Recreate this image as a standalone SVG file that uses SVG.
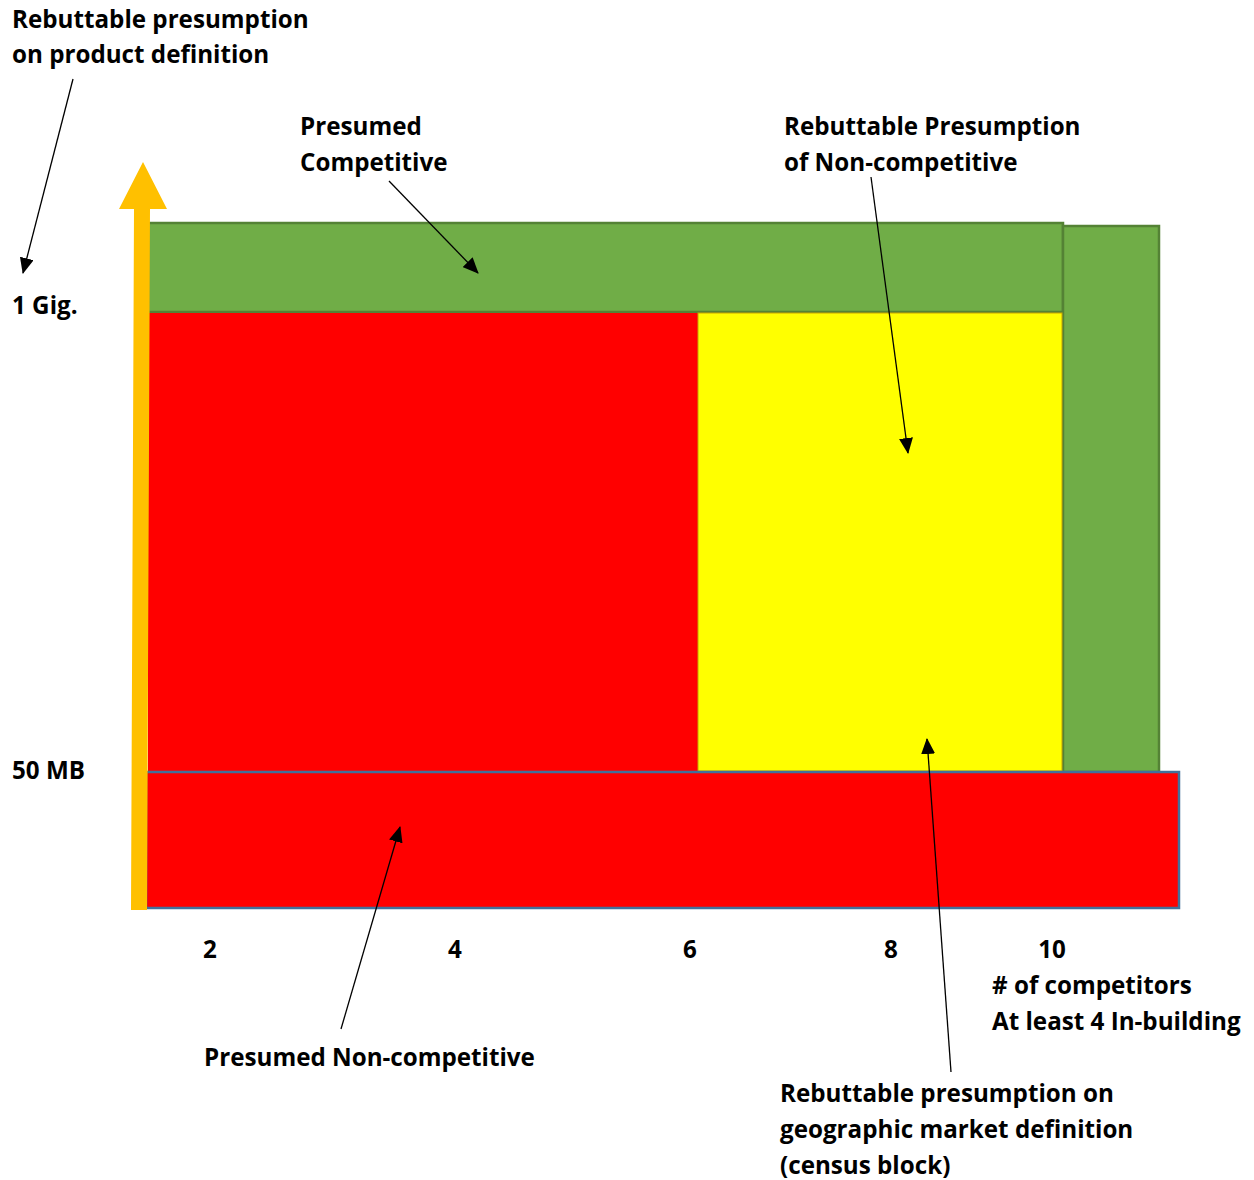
<svg xmlns="http://www.w3.org/2000/svg" width="1254" height="1180" viewBox="0 0 1254 1180">
<defs>
<style>
.t{font-family:"Open Sans","Liberation Sans",sans-serif;font-weight:bold;font-size:24.2px;fill:#000}
.c{stroke:#000;stroke-width:1.3;fill:none;marker-end:url(#ah)}
</style>
<marker id="ah" markerWidth="16" markerHeight="14" refX="15" refY="7" orient="auto" markerUnits="userSpaceOnUse" viewBox="0 0 16 14">
<path d="M0,0 L16,7 L0,14 Z" fill="#000"/>
</marker>
</defs>
<rect width="1254" height="1180" fill="#fff"/>
<g id="zone-competitive-top"><rect x="148" y="223" width="915" height="89" fill="#70AD47" stroke="#548235" stroke-width="2.5"/></g>
<g id="zone-competitive-right"><rect x="1063" y="226" width="96" height="546" fill="#70AD47" stroke="#548235" stroke-width="2.5"/></g>
<g id="zone-noncompetitive-upper"><rect x="148" y="313" width="550" height="458" fill="#FF0000"/></g>
<g id="zone-rebuttable"><rect x="698" y="313" width="364" height="458" fill="#FFFF00" stroke="#C9A400" stroke-width="1"/></g>
<g id="zone-noncompetitive-lower"><rect x="146" y="772" width="1033" height="136" fill="#FF0000" stroke="#41719C" stroke-width="2.5"/></g>
<g id="axis"><polygon points="134,209 119,209 143,162 167,209 150,209 147,910 131,910" fill="#FFC000"/></g>
<g id="connectors">
<line class="c" x1="73" y1="79" x2="23" y2="273"/>
<line class="c" x1="389" y1="181" x2="478" y2="273"/>
<line class="c" x1="871" y1="177" x2="908" y2="453"/>
<line class="c" x1="341" y1="1029" x2="400" y2="827"/>
<line class="c" x1="951" y1="1072" x2="927" y2="739"/>
</g>
<g id="labels">
<text class="t" x="12" y="28">Rebuttable presumption</text>
<text class="t" x="12" y="63">on product definition</text>
<text class="t" x="12" y="314">1 Gig.</text>
<text class="t" x="12" y="779">50 MB</text>
<text class="t" x="300" y="135">Presumed</text>
<text class="t" x="300" y="171">Competitive</text>
<text class="t" x="784" y="135">Rebuttable Presumption</text>
<text class="t" x="784" y="171">of Non-competitive</text>
<text class="t" x="210" y="958" text-anchor="middle">2</text>
<text class="t" x="455" y="958" text-anchor="middle">4</text>
<text class="t" x="690" y="958" text-anchor="middle">6</text>
<text class="t" x="891" y="958" text-anchor="middle">8</text>
<text class="t" x="1052" y="958" text-anchor="middle">10</text>
<text class="t" x="992" y="994"># of competitors</text>
<text class="t" x="992" y="1030">At least 4 In-building</text>
<text class="t" x="204" y="1066">Presumed Non-competitive</text>
<text class="t" x="780" y="1102">Rebuttable presumption on</text>
<text class="t" x="780" y="1138">geographic market definition</text>
<text class="t" x="780" y="1174">(census block)</text>
</g>
</svg>
